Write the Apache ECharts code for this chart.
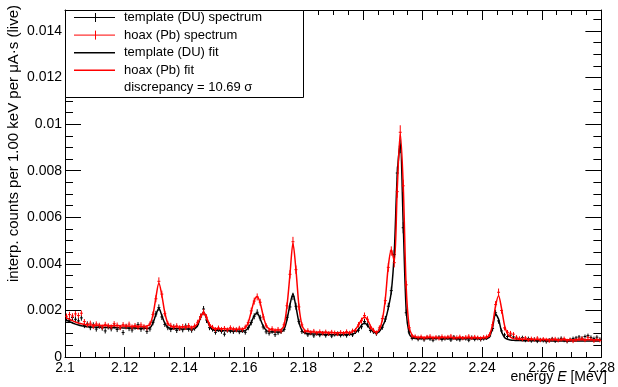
<!DOCTYPE html>
<html>
<head>
<meta charset="utf-8">
<script src="https://cdn.jsdelivr.net/npm/echarts@6/dist/echarts.min.js"></script>
<style>
html,body{margin:0;padding:0;background:#fff;}
#chart{width:618px;height:387px;}
</style>
</head>
<body>
<div id="chart"></div>
<script>
// Energy grid: 1 keV bins starting at 2.100 MeV (points at bin centres)
const binStartMeV = 2.100;
const binWidthMeV = 0.001;
const nBins = 180;

// Values below are in units of 1e-4 (counts per 1.00 keV per uA*s)
const duSpectrum = [
16.5,15.8,17.0,16.2,15.5,16.8,13.5,14.2,12.6,13.8,
12.0,13.2,12.4,11.2,12.9,12.1,13.4,11.8,12.7,10.5,
13.0,12.2,11.6,12.8,13.9,11.9,12.5,11.0,12.0,14.8,
18.5,21.2,17.2,14.0,12.6,11.8,12.9,11.4,12.3,11.7,
13.3,12.0,11.5,12.4,13.9,17.2,20.6,15.9,12.6,11.9,
10.6,11.8,11.0,9.8,11.5,11.2,10.9,11.6,10.8,11.3,
10.6,12.6,14.8,17.5,19.2,16.8,12.9,10.8,10.2,11.0,
9.6,10.4,10.9,11.8,17.0,21.5,26.0,21.8,15.2,10.9,
10.6,9.5,10.2,9.1,10.0,9.4,10.3,9.2,9.9,9.0,
9.7,10.1,9.3,9.8,9.2,10.0,9.5,10.9,11.5,13.0,
15.2,13.8,11.4,10.9,10.0,11.6,12.8,16.3,21.8,28.5,
44.0,79.0,90.5,55.5,19.0,10.8,8.0,8.4,7.6,8.1,
7.4,8.3,7.8,7.2,8.0,8.5,7.5,7.9,8.2,7.3,
8.6,7.7,7.4,8.1,7.9,7.2,8.4,7.6,8.0,7.5,
7.9,8.2,9.0,12.2,19.0,15.5,11.2,9.5,8.8,9.4,
8.6,8.1,7.8,8.3,7.2,7.9,7.0,7.6,6.8,7.4,
7.1,6.6,7.3,7.8,6.9,7.5,8.0,7.2,6.7,7.4,
7.9,8.2,8.6,8.0,8.8,9.2,8.4,7.9,8.5,7.6
];
const duErrors = [
1.2,1.2,1.2,1.2,1.2,1.2,1.1,1.1,1.1,1.1,
1.1,1.1,1.1,1.1,1.1,1.1,1.1,1.1,1.1,1.1,
1.1,1.1,1.1,1.1,1.1,1.1,1.1,1.1,1.1,1.2,
1.3,1.4,1.3,1.1,1.1,1.1,1.1,1.1,1.1,1.1,
1.1,1.1,1.1,1.1,1.1,1.3,1.3,1.3,1.1,1.0,
1.0,1.0,1.0,1.0,1.0,1.0,1.0,1.0,1.0,1.0,
1.0,1.1,1.2,1.3,1.3,1.3,1.1,1.0,1.0,1.0,
1.0,1.0,1.0,1.0,1.3,1.5,1.6,1.5,1.2,1.0,
0.9,0.9,0.9,0.9,0.9,0.9,0.9,0.9,0.9,0.9,
0.9,0.9,0.9,0.9,0.9,0.9,0.9,1.0,1.0,1.1,
1.2,1.1,1.0,1.0,0.9,1.0,1.1,1.3,1.5,1.7,
2.1,2.8,3.0,2.4,1.4,1.0,0.85,0.85,0.85,0.85,
0.85,0.85,0.85,0.85,0.85,0.85,0.85,0.85,0.85,0.85,
0.85,0.85,0.85,0.85,0.85,0.85,0.85,0.85,0.85,0.85,
0.85,0.85,0.9,1.2,1.3,1.2,1.0,0.9,0.9,0.9,
0.85,0.85,0.85,0.85,0.85,0.85,0.85,0.85,0.85,0.85,
0.85,0.85,0.85,0.85,0.85,0.85,0.85,0.85,0.85,0.85,
0.85,0.85,0.85,0.85,0.85,0.85,0.85,0.85,0.85,0.85
];
const pbSpectrum = [
17.5,18.2,17.6,18.5,17.8,18.8,15.2,13.9,14.5,13.1,
14.2,13.6,12.8,14.0,13.4,12.9,14.3,13.7,12.6,13.9,
13.2,14.1,12.9,13.5,12.7,13.8,13.0,12.5,14.2,18.2,
25.0,32.5,27.0,18.6,14.4,13.6,12.8,13.4,12.5,13.1,
12.7,13.5,12.4,13.3,14.9,17.4,19.2,17.1,13.8,12.8,
11.8,12.5,11.9,12.3,11.6,12.6,12.0,11.7,12.4,11.8,
12.9,14.8,19.8,24.0,25.8,23.5,17.2,13.4,11.5,12.2,
11.3,11.9,11.1,13.8,22.0,35.5,49.5,37.5,21.5,13.8,
11.0,11.4,10.6,11.1,10.3,10.9,10.2,10.8,10.1,10.7,
10.4,9.9,10.6,10.2,10.9,10.3,11.2,11.4,13.8,15.6,
17.8,16.2,12.8,11.5,10.4,12.5,16.5,24.2,38.5,45.5,
40.5,71.0,96.5,73.5,31.0,12.6,9.0,8.8,8.3,8.7,
8.1,8.6,8.9,8.2,8.5,8.0,8.8,8.3,8.6,9.0,
8.2,8.4,8.7,8.1,8.5,8.9,8.2,8.6,8.3,8.0,
8.5,8.7,9.6,13.8,22.5,27.8,20.0,12.5,10.6,10.2,
9.8,8.5,8.0,7.6,8.2,7.3,7.9,7.5,8.1,7.2,
7.7,7.4,6.9,7.6,7.8,7.1,7.5,7.9,7.0,7.4,
6.8,7.3,7.7,8.0,7.2,8.3,7.6,6.9,7.5,7.1
];
const pbErrors = [
1.2,1.2,1.2,1.2,1.2,1.2,1.1,1.1,1.1,1.1,
1.1,1.1,1.1,1.1,1.1,1.1,1.1,1.1,1.1,1.1,
1.1,1.1,1.1,1.1,1.1,1.1,1.1,1.1,1.1,1.3,
1.5,1.7,1.5,1.2,1.1,1.1,1.1,1.1,1.1,1.1,
1.1,1.1,1.1,1.1,1.1,1.3,1.3,1.3,1.1,1.0,
1.0,1.0,1.0,1.0,1.0,1.0,1.0,1.0,1.0,1.0,
1.0,1.2,1.4,1.5,1.5,1.5,1.3,1.1,1.0,1.0,
1.0,1.0,1.0,1.1,1.4,1.8,2.1,1.8,1.4,1.1,
0.95,0.95,0.95,0.95,0.95,0.95,0.95,0.95,0.95,0.95,
0.95,0.95,0.95,0.95,0.95,0.95,1.0,1.0,1.2,1.3,
1.3,1.3,1.1,1.0,1.0,1.1,1.3,1.6,1.9,2.0,
2.0,2.6,3.0,2.6,1.7,1.1,0.9,0.9,0.9,0.9,
0.9,0.9,0.9,0.9,0.9,0.9,0.9,0.9,0.9,0.9,
0.9,0.9,0.9,0.9,0.9,0.9,0.9,0.9,0.9,0.9,
0.9,0.9,1.0,1.3,1.5,1.6,1.4,1.1,1.0,1.0,
0.9,0.9,0.85,0.85,0.85,0.85,0.85,0.85,0.85,0.85,
0.85,0.85,0.85,0.85,0.85,0.85,0.85,0.85,0.85,0.85,
0.85,0.85,0.85,0.85,0.85,0.85,0.85,0.85,0.85,0.85
];
const duFit = [
15.8,15.2,14.6,14.1,13.7,13.4,13.2,13.0,12.9,12.85,
12.8,12.8,12.75,12.7,12.7,12.65,12.6,12.6,12.55,12.5,
12.5,12.45,12.4,12.4,12.35,12.3,12.3,12.3,12.5,14.5,
18.2,20.8,17.8,14.5,12.7,12.2,12.15,12.1,12.1,12.05,
12.0,12.0,12.0,12.2,13.6,17.0,19.3,16.4,13.3,11.8,
11.4,11.35,11.3,11.3,11.25,11.2,11.2,11.15,11.1,11.1,
11.3,12.5,14.8,17.8,18.8,16.4,13.3,11.5,10.9,10.75,
10.7,10.7,10.8,11.8,16.0,22.5,27.0,21.6,15.0,11.4,
10.3,10.0,9.9,9.85,9.8,9.75,9.7,9.7,9.65,9.6,
9.6,9.6,9.6,9.6,9.65,9.7,9.9,10.5,11.9,13.6,
14.6,13.6,11.9,10.7,10.4,11.0,13.0,16.0,21.0,28.0,
45.0,78.0,91.5,57.0,20.0,10.0,8.3,8.0,7.95,7.9,
7.9,7.9,7.9,7.9,7.9,7.9,7.88,7.88,7.87,7.86,
7.85,7.85,7.84,7.83,7.82,7.82,7.81,7.8,7.8,7.8,
7.8,7.85,8.8,12.8,18.4,16.2,10.9,8.4,7.6,7.3,
7.15,7.1,7.05,7.0,7.0,7.0,6.98,6.96,6.95,6.95,
6.94,6.93,6.92,6.92,6.91,6.9,6.9,6.9,6.9,6.9,
6.9,6.9,6.9,6.9,6.9,6.9,6.9,6.9,6.9,6.9
];
const pbFit = [
16.8,16.2,15.6,15.0,14.6,14.3,14.0,13.85,13.75,13.7,
13.65,13.6,13.55,13.5,13.5,13.45,13.4,13.4,13.35,13.3,
13.3,13.25,13.2,13.2,13.2,13.15,13.15,13.3,14.0,18.0,
25.5,31.8,26.5,19.0,14.5,13.2,13.0,12.95,12.9,12.9,
12.85,12.85,12.9,13.1,14.4,17.2,19.0,16.9,14.0,12.6,
12.2,12.15,12.1,12.1,12.05,12.0,12.0,11.95,11.95,12.0,
12.6,14.8,19.5,24.2,26.0,23.2,17.8,13.6,12.1,11.7,
11.6,11.6,11.8,13.6,22.0,35.5,48.8,37.5,22.0,13.8,
11.4,10.9,10.8,10.7,10.65,10.6,10.55,10.5,10.5,10.45,
10.4,10.4,10.4,10.4,10.45,10.5,10.9,11.9,13.8,16.0,
17.2,16.0,13.4,11.4,10.7,11.8,16.0,25.0,39.0,46.0,
41.0,72.0,96.0,74.0,30.0,13.0,9.3,8.6,8.45,8.4,
8.4,8.4,8.4,8.38,8.37,8.36,8.35,8.34,8.33,8.32,
8.31,8.3,8.3,8.29,8.28,8.27,8.26,8.25,8.24,8.23,
8.22,8.35,9.6,14.0,22.0,26.3,20.8,13.6,9.9,8.5,
7.9,7.7,7.65,7.6,7.58,7.56,7.55,7.53,7.52,7.5,
7.5,7.48,7.47,7.46,7.45,7.44,7.43,7.42,7.41,7.4,
7.4,7.4,7.4,7.4,7.4,7.4,7.4,7.4,7.4,7.4
];
const xTickLabels = ["2.1","2.12","2.14","2.16","2.18","2.2","2.22","2.24","2.26","2.28"];
const yTickLabels = ["0","0.002","0.004","0.006","0.008","0.01","0.012","0.014"];
const legendLabels = ["template (DU) spectrum","hoax (Pb) spectrum","template (DU) fit","hoax (Pb) fit","discrepancy = 10.69 \u03c3"];

const UNIT = 1e-4;
const energies = [];
for (let i = 0; i < nBins; i++) energies.push(+(binStartMeV + (i + 0.5) * binWidthMeV).toFixed(5));

function pts(vals, errs) {
  return vals.map((v, i) => errs ? [energies[i], v * UNIT, errs[i] * UNIT] : [energies[i], v * UNIT]);
}

const FONT = 'Liberation Sans, Arial, Helvetica, sans-serif';

function errRender(color) {
  return function (params, api) {
    const x = api.value(0), y = api.value(1), e = api.value(2);
    const t = api.coord([x, y + e]), b = api.coord([x, y - e]);
    const l = api.coord([x - binWidthMeV * 0.5, y]), r = api.coord([x + binWidthMeV * 0.5, y]);
    return {
      type: 'group',
      children: [
        { type: 'line', shape: { x1: t[0], y1: t[1], x2: b[0], y2: b[1] }, style: { stroke: color, lineWidth: 1 } },
        { type: 'line', shape: { x1: l[0], y1: l[1], x2: r[0], y2: r[1] }, style: { stroke: color, lineWidth: 1 } }
      ]
    };
  };
}

function labelFmt(list, digits) {
  return v => {
    const s = String(+v.toFixed(digits));
    return list.indexOf(s) >= 0 ? s : '';
  };
}

const chart = echarts.init(document.getElementById('chart'), null, { renderer: 'canvas' });

const xCommon = {
  type: 'value', min: 2.1, max: 2.28, interval: 0.02,
  splitLine: { show: false },
  axisLine: { show: true, onZero: false, lineStyle: { color: '#000', width: 1 } },
  axisTick: { show: true, inside: true, length: 10, lineStyle: { color: '#000' } },
  minorTick: { show: true, splitNumber: 4, length: 5, lineStyle: { color: '#000' } }
};
const yCommon = {
  type: 'value', min: 0, max: 0.0149, interval: 0.002,
  splitLine: { show: false },
  axisLine: { show: true, onZero: false, lineStyle: { color: '#000', width: 1 } },
  axisTick: { show: true, inside: true, length: 16, lineStyle: { color: '#000' } },
  minorTick: { show: true, splitNumber: 4, length: 8, lineStyle: { color: '#000' } }
};

const rowH = 17.6;
const legendGraphics = [
  { type: 'rect', shape: { x: 65.5, y: 10.5, width: 238, height: 87 }, style: { fill: '#fff', stroke: '#000', lineWidth: 1 }, z: 100 }
];
const legendColors = ['#000', '#ff0000', '#000', '#ff0000'];
legendLabels.forEach((lab, k) => {
  const cy = 17.5 + k * rowH;
  if (k < 4) {
    legendGraphics.push({ type: 'line', shape: { x1: 74, y1: cy, x2: 115, y2: cy }, style: { stroke: legendColors[k], lineWidth: k < 2 ? 1 : 1.5 }, z: 101 });
  }
  if (k < 2) {
    legendGraphics.push({ type: 'line', shape: { x1: 95.5, y1: cy - 4.5, x2: 95.5, y2: cy + 4.5 }, style: { stroke: legendColors[k], lineWidth: 1 }, z: 101 });
  }
  legendGraphics.push({ type: 'text', x: 124, y: cy, style: { text: lab, font: '13px ' + FONT, fill: '#000', align: 'left', verticalAlign: 'middle' }, z: 101 });
});

chart.setOption({
  animation: false,
  backgroundColor: '#fff',
  grid: { left: 65, right: 12, top: 10, bottom: 30, containLabel: false },
  xAxis: [
    Object.assign({}, xCommon, { position: 'bottom',
      axisLabel: { show: true, margin: 4, color: '#000', fontSize: 14, fontFamily: FONT,
        formatter: labelFmt(xTickLabels, 2) } }),
    Object.assign({}, xCommon, { position: 'top', axisLabel: { show: false } })
  ],
  yAxis: [
    Object.assign({}, yCommon, { position: 'left',
      axisLabel: { show: true, margin: 3, color: '#000', fontSize: 14, fontFamily: FONT, showMaxLabel: false,
        formatter: labelFmt(yTickLabels, 3) } }),
    Object.assign({}, yCommon, { position: 'right', axisLabel: { show: false } })
  ],
  graphic: [
    { type: 'text', x: 607, y: 377, style: { text: 'energy {i|E} [MeV]', font: '14px ' + FONT, fill: '#000', align: 'right', verticalAlign: 'middle',
      rich: { i: { fontStyle: 'italic', fontSize: 14, fontFamily: FONT } } } },
    { type: 'text', x: 14, y: 5, rotation: Math.PI / 2, style: { text: 'interp. counts per 1.00 keV per \u03bcA\u00b7s (live)', font: '15px ' + FONT, fill: '#000', align: 'right', verticalAlign: 'middle' } }
  ].concat(legendGraphics),
  series: [
    { type: 'custom', name: 'template (DU) spectrum', renderItem: errRender('#000'),
      encode: { x: 0, y: 1 }, data: pts(duSpectrum, duErrors), clip: true, z: 2 },
    { type: 'line', name: 'template (DU) fit', data: pts(duFit), showSymbol: false, clip: true, smooth: 0.3,
      lineStyle: { color: '#000', width: 1.5 }, z: 3 },
    { type: 'custom', name: 'hoax (Pb) spectrum', renderItem: errRender('#ff0000'),
      encode: { x: 0, y: 1 }, data: pts(pbSpectrum, pbErrors), clip: true, z: 4 },
    { type: 'line', name: 'hoax (Pb) fit', data: pts(pbFit), showSymbol: false, clip: true, smooth: 0.3,
      lineStyle: { color: '#ff0000', width: 1.5 }, z: 5 }
  ]
});
</script>
</body>
</html>
